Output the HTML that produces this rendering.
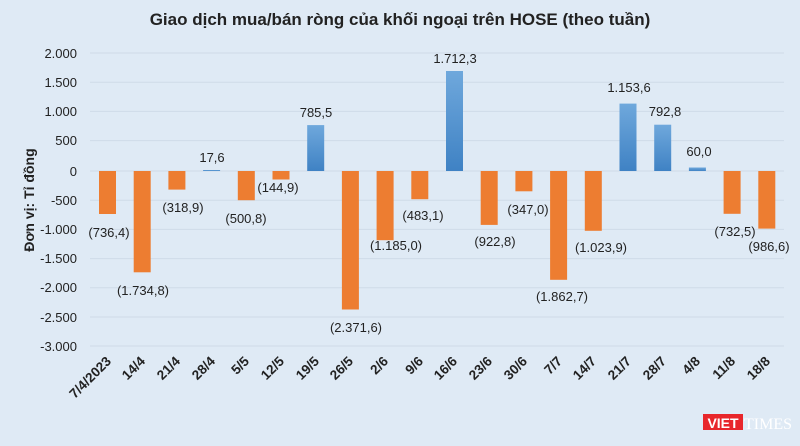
<!DOCTYPE html>
<html><head><meta charset="utf-8"><style>
html,body{margin:0;padding:0;background:#dfeaf5;}
svg{display:block;font-family:"Liberation Sans",sans-serif;}
</style></head><body>
<svg width="800" height="446" viewBox="0 0 800 446" xmlns="http://www.w3.org/2000/svg">
<defs>
<linearGradient id="bl" x1="0" y1="0" x2="0" y2="1"><stop offset="0" stop-color="#6fa8dc"/><stop offset="1" stop-color="#3f82c4"/></linearGradient>
</defs>
<rect width="800" height="446" fill="#dfeaf5"/>
<text x="400" y="25" text-anchor="middle" font-size="17" font-weight="bold" fill="#222">Giao dịch mua/bán ròng của khối ngoại trên HOSE (theo tuần)</text>
<g stroke="#cfdbe8" stroke-width="1">
<line x1="90" x2="784" y1="53" y2="53"/><line x1="90" x2="784" y1="82.2" y2="82.2"/><line x1="90" x2="784" y1="111.4" y2="111.4"/><line x1="90" x2="784" y1="140.6" y2="140.6"/><line x1="90" x2="784" y1="171" y2="171"/><line x1="90" x2="784" y1="200.2" y2="200.2"/><line x1="90" x2="784" y1="229.4" y2="229.4"/><line x1="90" x2="784" y1="258.6" y2="258.6"/><line x1="90" x2="784" y1="287.8" y2="287.8"/><line x1="90" x2="784" y1="317" y2="317"/><line x1="90" x2="784" y1="346" y2="346"/>
</g>
<g font-size="13" fill="#222" text-anchor="end">
<text x="77" y="58">2.000</text><text x="77" y="87">1.500</text><text x="77" y="116">1.000</text><text x="77" y="145">500</text><text x="77" y="176">0</text><text x="77" y="205">-500</text><text x="77" y="234">-1.000</text><text x="77" y="263">-1.500</text><text x="77" y="292">-2.000</text><text x="77" y="322">-2.500</text><text x="77" y="351">-3.000</text>
</g>
<text transform="translate(34,200) rotate(-90)" text-anchor="middle" font-size="14" font-weight="bold" fill="#222">Đơn vị: Tỉ đồng</text>
<g fill="#ed7d31">
<rect x="99" y="171" width="17" height="43"/>
<rect x="133.7" y="171" width="17" height="101.3"/>
<rect x="168.4" y="171" width="17" height="18.6"/>
<rect x="237.8" y="171" width="17" height="29.2"/>
<rect x="272.5" y="171" width="17" height="8.5"/>
<rect x="341.9" y="171" width="17" height="138.5"/>
<rect x="376.6" y="171" width="17" height="69.2"/>
<rect x="411.3" y="171" width="17" height="28.2"/>
<rect x="480.7" y="171" width="17" height="53.9"/>
<rect x="515.4" y="171" width="17" height="20.3"/>
<rect x="550.1" y="171" width="17" height="108.8"/>
<rect x="584.8" y="171" width="17" height="59.8"/>
<rect x="723.6" y="171" width="17" height="42.8"/>
<rect x="758.3" y="171" width="17" height="57.6"/>
</g>
<g fill="url(#bl)">
<rect x="203.1" y="170" width="17" height="1"/>
<rect x="307.2" y="125.1" width="17" height="45.9"/>
<rect x="446" y="71" width="17" height="100"/>
<rect x="619.5" y="103.6" width="17" height="67.4"/>
<rect x="654.2" y="124.7" width="17" height="46.3"/>
<rect x="688.9" y="167.5" width="17" height="3.5"/>
</g>
<g font-size="13" fill="#222" text-anchor="middle">
<text x="109" y="237">(736,4)</text>
<text x="143" y="295">(1.734,8)</text>
<text x="183" y="212">(318,9)</text>
<text x="212" y="162">17,6</text>
<text x="246" y="223">(500,8)</text>
<text x="278" y="192">(144,9)</text>
<text x="316" y="117">785,5</text>
<text x="356" y="332">(2.371,6)</text>
<text x="396" y="250">(1.185,0)</text>
<text x="423" y="220">(483,1)</text>
<text x="455" y="63">1.712,3</text>
<text x="495" y="246">(922,8)</text>
<text x="528" y="214">(347,0)</text>
<text x="562" y="301">(1.862,7)</text>
<text x="601" y="252">(1.023,9)</text>
<text x="629" y="92">1.153,6</text>
<text x="665" y="116">792,8</text>
<text x="699" y="156">60,0</text>
<text x="735" y="236">(732,5)</text>
<text x="769" y="251">(986,6)</text>
</g>
<g font-size="13.5" font-weight="bold" fill="#222" text-anchor="end">
<text transform="translate(112,362) rotate(-45)">7/4/2023</text>
<text transform="translate(146,362) rotate(-45)">14/4</text>
<text transform="translate(181,362) rotate(-45)">21/4</text>
<text transform="translate(216,362) rotate(-45)">28/4</text>
<text transform="translate(250,362) rotate(-45)">5/5</text>
<text transform="translate(285,362) rotate(-45)">12/5</text>
<text transform="translate(320,362) rotate(-45)">19/5</text>
<text transform="translate(354,362) rotate(-45)">26/5</text>
<text transform="translate(389,362) rotate(-45)">2/6</text>
<text transform="translate(424,362) rotate(-45)">9/6</text>
<text transform="translate(458,362) rotate(-45)">16/6</text>
<text transform="translate(493,362) rotate(-45)">23/6</text>
<text transform="translate(528,362) rotate(-45)">30/6</text>
<text transform="translate(563,362) rotate(-45)">7/7</text>
<text transform="translate(597,362) rotate(-45)">14/7</text>
<text transform="translate(632,362) rotate(-45)">21/7</text>
<text transform="translate(667,362) rotate(-45)">28/7</text>
<text transform="translate(701,362) rotate(-45)">4/8</text>
<text transform="translate(736,362) rotate(-45)">11/8</text>
<text transform="translate(771,362) rotate(-45)">18/8</text>
</g>
<rect x="703" y="414" width="40" height="16" fill="#e8262b"/>
<text x="723" y="428" text-anchor="middle" font-size="14" font-weight="bold" fill="#fff">VIET</text>
<text x="744" y="429" font-size="16" font-family="Liberation Serif,serif" fill="#fff">TIMES</text>
</svg>
</body></html>
